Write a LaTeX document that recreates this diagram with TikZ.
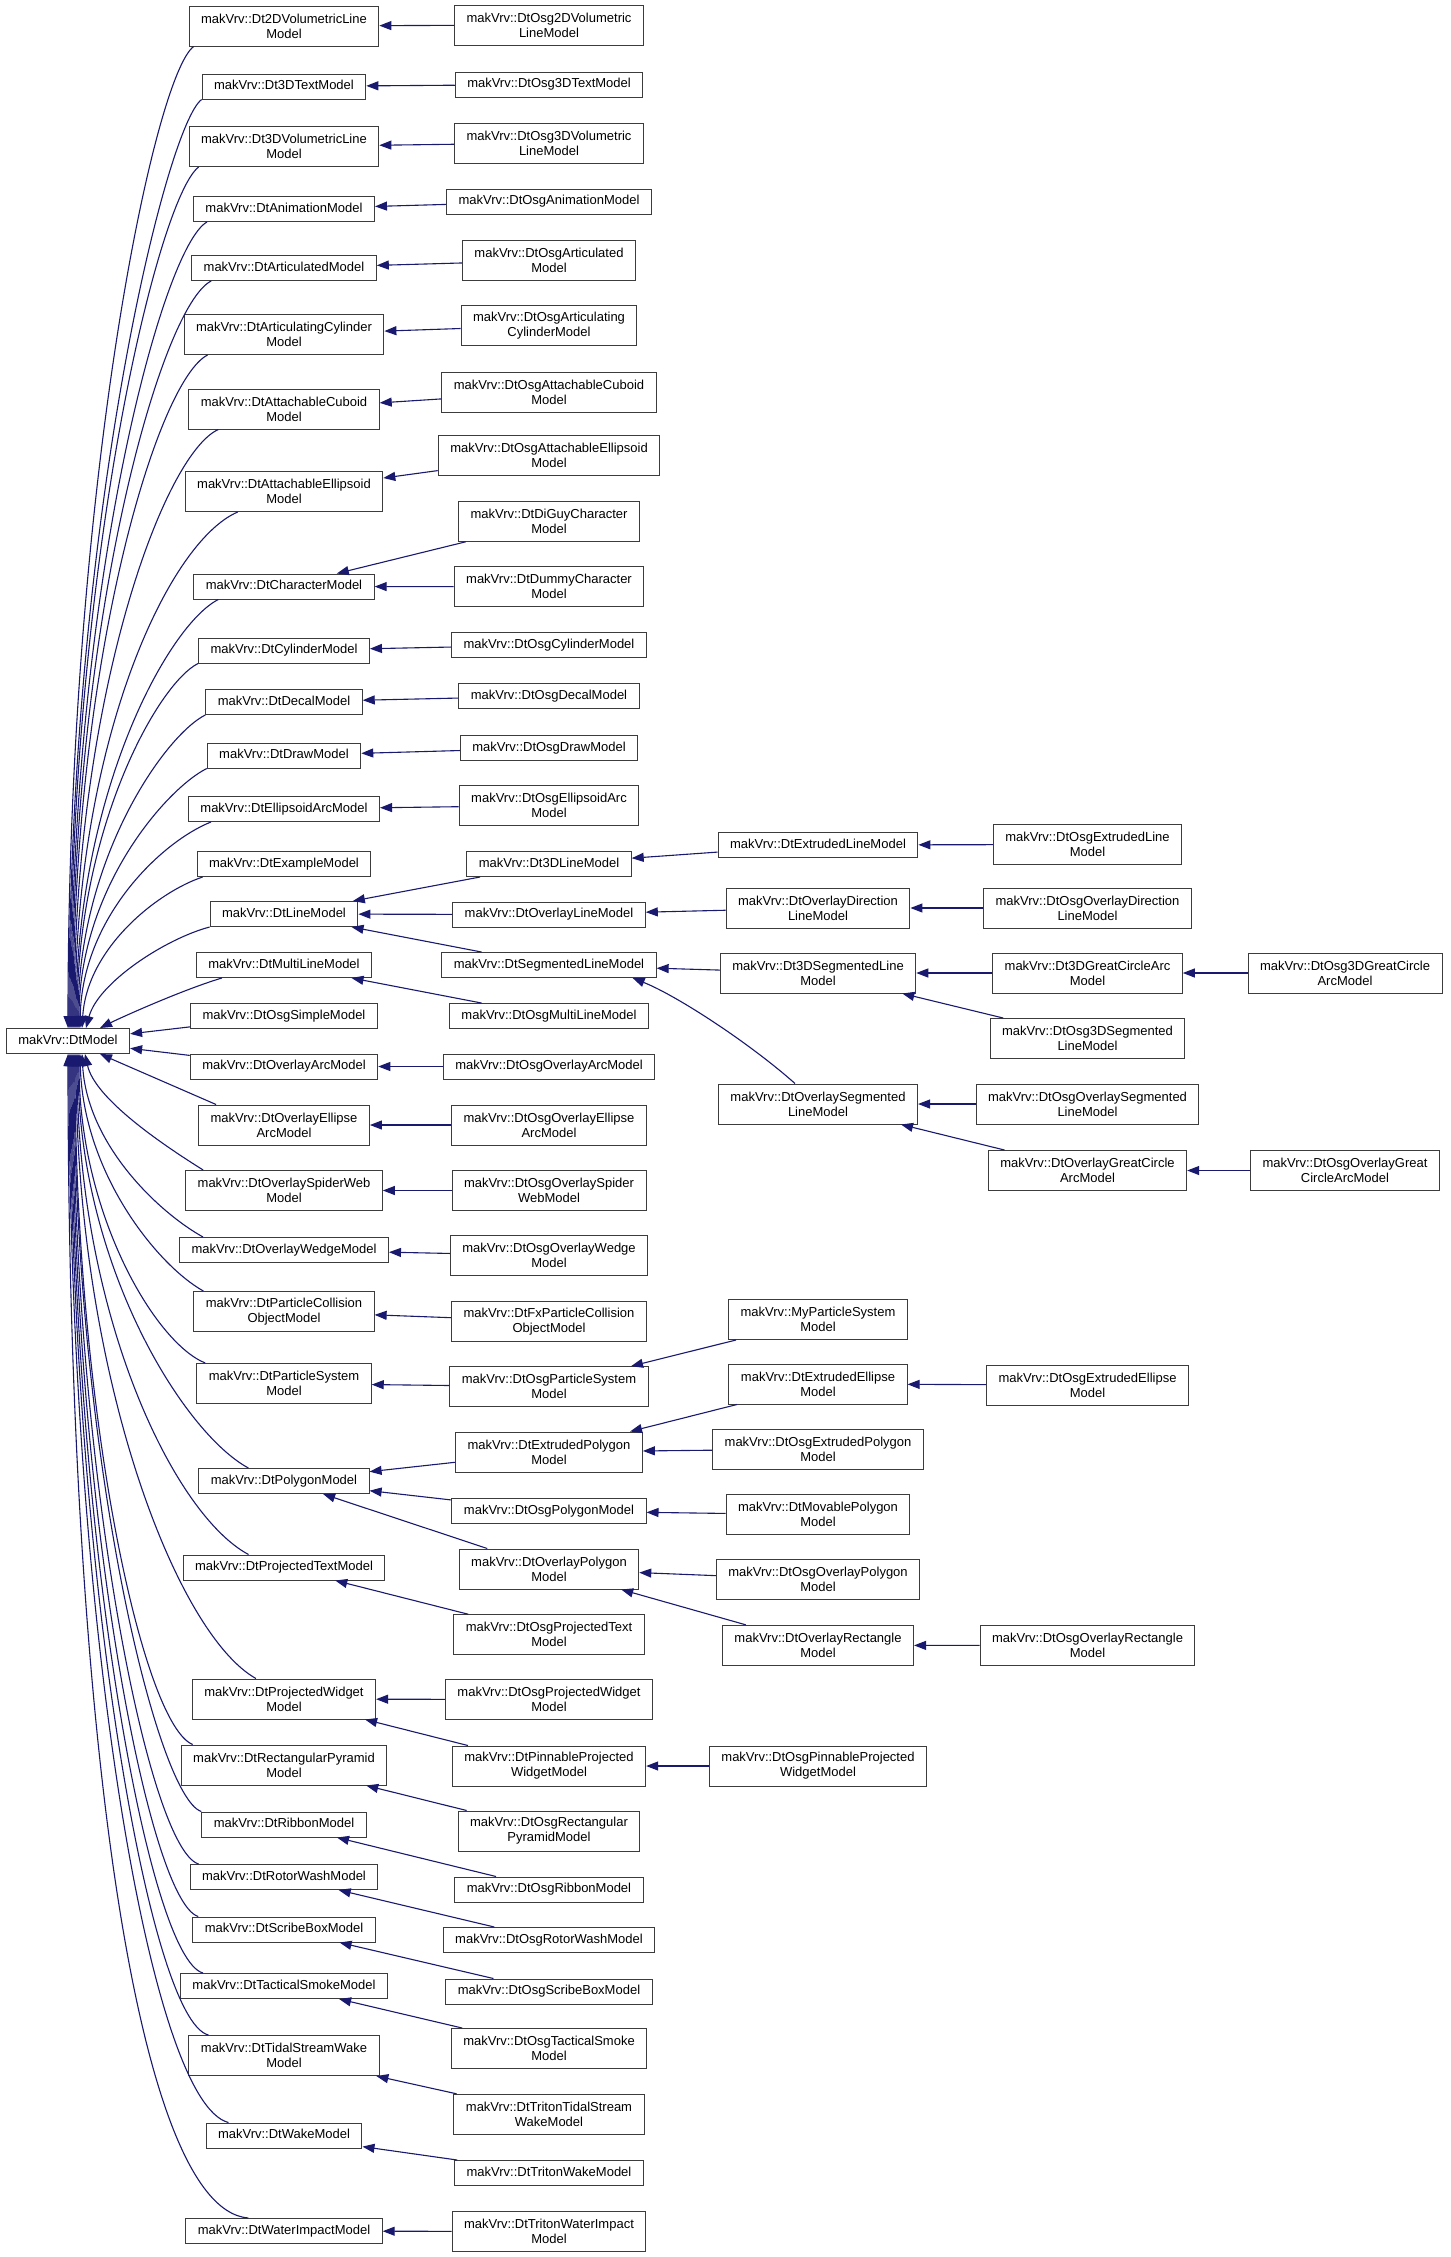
\documentclass[tikz,border=0pt]{standalone}
\usepackage{fontspec}
\setmainfont{Liberation Sans}
\usepackage{tikz}
\usetikzlibrary{arrows.meta}
\definecolor{edgeblue}{RGB}{25,25,112}
\definecolor{boxline}{RGB}{60,60,60}

\begin{document}
\begin{tikzpicture}[x=1pt, y=-1pt,
    cbase/.style={draw=boxline, line width=1pt, fill=white, align=center, inner xsep=12pt, inner ysep=2pt, font={\fontsize{13}{15}\selectfont}},
    cls/.style={cbase, minimum height=25pt, text height=9.6pt, text depth=2.8pt},
    clstwo/.style={cbase, minimum height=40pt},
    inh/.style={draw=edgeblue, line width=1.1pt, -{Triangle[length=12pt, width=9pt]}}]
            \fill[white] (0,0) rectangle (1451,2257);

            \node (model) [cls] at (68,1041) {makVrv::DtModel};

            \node (vtwod) [clstwo] at (284,26) {makVrv::Dt2DVolumetricLine\\Model};
            \node (text3d) [cls] at (284,86.5) {makVrv::Dt3DTextModel};
            \node (vthreed) [clstwo] at (284,146.5) {makVrv::Dt3DVolumetricLine\\Model};
            \node (anim) [cls] at (284,209) {makVrv::DtAnimationModel};
            \node (artic) [cls] at (284,268) {makVrv::DtArticulatedModel};
            \node (articcyl) [clstwo] at (284,334.5) {makVrv::DtArticulatingCylinder\\Model};
            \node (cuboid) [clstwo] at (284,409) {makVrv::DtAttachableCuboid\\Model};
            \node (ellipsoid) [clstwo] at (284,491.5) {makVrv::DtAttachableEllipsoid\\Model};
            \node (character) [cls] at (284,586.5) {makVrv::DtCharacterModel};
            \node (cylinder) [cls] at (284,650.5) {makVrv::DtCylinderModel};
            \node (decal) [cls] at (284,702) {makVrv::DtDecalModel};
            \node (drawm) [cls] at (284,755.5) {makVrv::DtDrawModel};
            \node (ellarc) [cls] at (284,809) {makVrv::DtEllipsoidArcModel};
            \node (example) [cls] at (284,864) {makVrv::DtExampleModel};
            \node (line) [cls] at (284,914) {makVrv::DtLineModel};
            \node (multiline) [cls] at (284,965) {makVrv::DtMultiLineModel};
            \node (osgsimple) [cls] at (284,1016) {makVrv::DtOsgSimpleModel};
            \node (ovarc) [cls] at (284,1066.5) {makVrv::DtOverlayArcModel};
            \node (ovellarc) [clstwo] at (284,1125) {makVrv::DtOverlayEllipse\\ArcModel};
            \node (spider) [clstwo] at (284,1190.5) {makVrv::DtOverlaySpiderWeb\\Model};
            \node (wedge) [cls] at (284,1250) {makVrv::DtOverlayWedgeModel};
            \node (collision) [clstwo] at (284,1311.5) {makVrv::DtParticleCollision\\ObjectModel};
            \node (particles) [clstwo] at (284,1383.5) {makVrv::DtParticleSystem\\Model};
            \node (polygon) [cls] at (284,1481) {makVrv::DtPolygonModel};
            \node (projtext) [cls] at (284,1567.5) {makVrv::DtProjectedTextModel};
            \node (projwidget) [clstwo] at (284,1699) {makVrv::DtProjectedWidget\\Model};
            \node (pyramid) [clstwo] at (284,1765) {makVrv::DtRectangularPyramid\\Model};
            \node (ribbon) [cls] at (284,1824.5) {makVrv::DtRibbonModel};
            \node (rotor) [cls] at (284,1877) {makVrv::DtRotorWashModel};
            \node (scribe) [cls] at (284,1929.5) {makVrv::DtScribeBoxModel};
            \node (smoke) [cls] at (284,1986) {makVrv::DtTacticalSmokeModel};
            \node (tidal) [clstwo] at (284,2055.5) {makVrv::DtTidalStreamWake\\Model};
            \node (wake) [cls] at (284,2135.5) {makVrv::DtWakeModel};
            \node (impact) [cls] at (284,2231) {makVrv::DtWaterImpactModel};

            \node (osgvol2d) [clstwo] at (549,25) {makVrv::DtOsg2DVolumetric\\LineModel};
            \node (osgtext3d) [cls] at (549,84.5) {makVrv::DtOsg3DTextModel};
            \node (osgvol3d) [clstwo] at (549,143) {makVrv::DtOsg3DVolumetric\\LineModel};
            \node (osganim) [cls] at (549,201.5) {makVrv::DtOsgAnimationModel};
            \node (osgartic) [clstwo] at (549,260.5) {makVrv::DtOsgArticulated\\Model};
            \node (osgarticcyl) [clstwo] at (549,325.5) {makVrv::DtOsgArticulating\\CylinderModel};
            \node (osgcuboid) [clstwo] at (549,392) {makVrv::DtOsgAttachableCuboid\\Model};
            \node (osgellipsoid) [clstwo] at (549,455.5) {makVrv::DtOsgAttachableEllipsoid\\Model};
            \node (diguy) [clstwo] at (549,521.3) {makVrv::DtDiGuyCharacter\\Model};
            \node (dummy) [clstwo] at (549,586.7) {makVrv::DtDummyCharacter\\Model};
            \node (osgcylinder) [cls] at (549,645) {makVrv::DtOsgCylinderModel};
            \node (osgdecal) [cls] at (549,696) {makVrv::DtOsgDecalModel};
            \node (osgdraw) [cls] at (549,748) {makVrv::DtOsgDrawModel};
            \node (osgellarc) [clstwo] at (549,805.5) {makVrv::DtOsgEllipsoidArc\\Model};
            \node (line3d) [cls] at (549,864) {makVrv::Dt3DLineModel};
            \node (ovline) [cls] at (549,914.5) {makVrv::DtOverlayLineModel};
            \node (segline) [cls] at (549,965) {makVrv::DtSegmentedLineModel};
            \node (osgmultiline) [cls] at (549,1016) {makVrv::DtOsgMultiLineModel};
            \node (osgovarc) [cls] at (549,1066.5) {makVrv::DtOsgOverlayArcModel};
            \node (osgovellarc) [clstwo] at (549,1125) {makVrv::DtOsgOverlayEllipse\\ArcModel};
            \node (osgspider) [clstwo] at (549,1190.5) {makVrv::DtOsgOverlaySpider\\WebModel};
            \node (osgwedge) [clstwo] at (549,1255.5) {makVrv::DtOsgOverlayWedge\\Model};
            \node (fxcollision) [clstwo] at (549,1321.3) {makVrv::DtFxParticleCollision\\ObjectModel};
            \node (osgparticles) [clstwo] at (549,1386.7) {makVrv::DtOsgParticleSystem\\Model};
            \node (extpolygon) [clstwo] at (549,1452) {makVrv::DtExtrudedPolygon\\Model};
            \node (osgpolygon) [cls] at (549,1511) {makVrv::DtOsgPolygonModel};
            \node (ovpolygon) [clstwo] at (549,1569) {makVrv::DtOverlayPolygon\\Model};
            \node (osgprojtext) [clstwo] at (549,1634.7) {makVrv::DtOsgProjectedText\\Model};
            \node (osgprojwidget) [clstwo] at (549,1699.5) {makVrv::DtOsgProjectedWidget\\Model};
            \node (pinnable) [clstwo] at (549,1766) {makVrv::DtPinnableProjected\\WidgetModel};
            \node (osgpyramid) [clstwo] at (549,1831) {makVrv::DtOsgRectangular\\PyramidModel};
            \node (osgribbon) [cls] at (549,1889.5) {makVrv::DtOsgRibbonModel};
            \node (osgrotor) [cls] at (549,1940) {makVrv::DtOsgRotorWashModel};
            \node (osgscribe) [cls] at (549,1991.5) {makVrv::DtOsgScribeBoxModel};
            \node (osgsmoke) [clstwo] at (549,2048.5) {makVrv::DtOsgTacticalSmoke\\Model};
            \node (tritontidal) [clstwo] at (549,2114.3) {makVrv::DtTritonTidalStream\\WakeModel};
            \node (tritonwake) [cls] at (549,2173) {makVrv::DtTritonWakeModel};
            \node (tritonimpact) [clstwo] at (549,2231.5) {makVrv::DtTritonWaterImpact\\Model};

            \node (extline) [cls] at (818,845) {makVrv::DtExtrudedLineModel};
            \node (ovdirection) [clstwo] at (818,908) {makVrv::DtOverlayDirection\\LineModel};
            \node (seg3d) [clstwo] at (818,973) {makVrv::Dt3DSegmentedLine\\Model};
            \node (ovseg) [clstwo] at (818,1104) {makVrv::DtOverlaySegmented\\LineModel};
            \node (myparticles) [clstwo] at (818,1319.5) {makVrv::MyParticleSystem\\Model};
            \node (extellipse) [clstwo] at (818,1384) {makVrv::DtExtrudedEllipse\\Model};
            \node (osgextpolygon) [clstwo] at (818,1449) {makVrv::DtOsgExtrudedPolygon\\Model};
            \node (movable) [clstwo] at (818,1514.7) {makVrv::DtMovablePolygon\\Model};
            \node (osgovpolygon) [clstwo] at (818,1579.7) {makVrv::DtOsgOverlayPolygon\\Model};
            \node (ovrect) [clstwo] at (818,1645.3) {makVrv::DtOverlayRectangle\\Model};
            \node (osgpinnable) [clstwo] at (818,1766) {makVrv::DtOsgPinnableProjected\\WidgetModel};

            \node (osgextline) [clstwo] at (1087.5,844.5) {makVrv::DtOsgExtrudedLine\\Model};
            \node (osgovdirection) [clstwo] at (1087.5,908) {makVrv::DtOsgOverlayDirection\\LineModel};
            \node (greatarc3d) [clstwo] at (1087.5,973) {makVrv::Dt3DGreatCircleArc\\Model};
            \node (osgseg3d) [clstwo] at (1087.5,1038.5) {makVrv::DtOsg3DSegmented\\LineModel};
            \node (osgovseg) [clstwo] at (1087.5,1104) {makVrv::DtOsgOverlaySegmented\\LineModel};
            \node (ovgreatarc) [clstwo] at (1087.5,1170.5) {makVrv::DtOverlayGreatCircle\\ArcModel};
            \node (osgextellipse) [clstwo] at (1087.5,1385) {makVrv::DtOsgExtrudedEllipse\\Model};
            \node (osgovrect) [clstwo] at (1087.5,1645.5) {makVrv::DtOsgOverlayRectangle\\Model};

            \node (osggreatarc3d) [clstwo] at (1345,973) {makVrv::DtOsg3DGreatCircle\\ArcModel};
            \node (osgovgreatarc) [clstwo] at (1345,1170.5) {makVrv::DtOsgOverlayGreat\\CircleArcModel};

            \draw[inh] ([xshift=5pt]vtwod.south west) .. controls +(-40,30) and +(0,-540) .. ([xshift=0pt]model.north);
            \draw[inh] ([xshift=0pt]text3d.south west) .. controls +(-35,25) and +(0,-510) .. ([xshift=1pt]model.north);
            \draw[inh] ([xshift=10pt]vthreed.south west) .. controls +(-40,30) and +(0,-470) .. ([xshift=2pt]model.north);
            \draw[inh] ([xshift=14pt]anim.south west) .. controls +(-45,25) and +(0,-440) .. ([xshift=3pt]model.north);
            \draw[inh] ([xshift=20pt]artic.south west) .. controls +(-50,25) and +(0,-410) .. ([xshift=4pt]model.north);
            \draw[inh] ([xshift=24pt]articcyl.south west) .. controls +(-50,25) and +(0,-370) .. ([xshift=5pt]model.north);
            \draw[inh] ([xshift=30pt]cuboid.south west) .. controls +(-55,25) and +(0,-330) .. ([xshift=6pt]model.north);
            \draw[inh] ([xshift=53pt]ellipsoid.south west) .. controls +(-70,30) and +(0,-285) .. ([xshift=7pt]model.north);
            \draw[inh] ([xshift=25pt]character.south west) .. controls +(-50,25) and +(0,-235) .. ([xshift=8pt]model.north);
            \draw[inh] ([xshift=0pt]cylinder.south west) .. controls +(-40,20) and +(0,-200) .. ([xshift=9pt]model.north);
            \draw[inh] ([xshift=0pt]decal.south west) .. controls +(-40,20) and +(0,-170) .. ([xshift=10pt]model.north);
            \draw[inh] ([xshift=0pt]drawm.south west) .. controls +(-40,20) and +(0,-140) .. ([xshift=11pt]model.north);
            \draw[inh] ([xshift=23pt]ellarc.south west) .. controls +(-50,20) and +(2,-110) .. ([xshift=12pt]model.north);
            \draw[inh] ([xshift=6pt]example.south west) .. controls +(-45,15) and +(5,-80) .. ([xshift=14pt]model.north);
            \draw[inh] ([xshift=0pt]line.south west) .. controls +(-45,12) and +(12,-45) .. ([xshift=18pt]model.north);
            \draw[inh] ([xshift=26pt]multiline.south west) .. controls +(-40,12) and +(20,-10) .. ([xshift=32pt]model.north);
            \draw[inh] (osgsimple) -- (model);
            \draw[inh] (ovarc) -- (model);
            \draw[inh] ([xshift=18pt]ovellarc.north west) -- ([xshift=32pt]model.south);
            \draw[inh] ([xshift=18pt]spider.north west) .. controls +(-40,-25) and +(10,45) .. ([xshift=17pt]model.south);
            \draw[inh] ([xshift=24pt]wedge.north west) .. controls +(-45,-25) and +(5,90) .. ([xshift=14pt]model.south);
            \draw[inh] ([xshift=10pt]collision.north west) .. controls +(-45,-25) and +(3,120) .. ([xshift=12pt]model.south);
            \draw[inh] ([xshift=9pt]particles.north west) .. controls +(-50,-20) and +(0,160) .. ([xshift=11pt]model.south);
            \draw[inh] ([xshift=50pt]polygon.north west) .. controls +(-65,-35) and +(0,210) .. ([xshift=10pt]model.south);
            \draw[inh] ([xshift=66pt]projtext.north west) .. controls +(-75,-40) and +(0,260) .. ([xshift=9pt]model.south);
            \draw[inh] ([xshift=64pt]projwidget.north west) .. controls +(-80,-45) and +(0,320) .. ([xshift=8pt]model.south);
            \draw[inh] ([xshift=12pt]pyramid.north west) .. controls +(-50,-20) and +(0,360) .. ([xshift=7pt]model.south);
            \draw[inh] ([xshift=0pt]ribbon.north west) .. controls +(-45,-15) and +(0,400) .. ([xshift=6pt]model.south);
            \draw[inh] ([xshift=9pt]rotor.north west) .. controls +(-50,-15) and +(0,420) .. ([xshift=5pt]model.south);
            \draw[inh] ([xshift=6pt]scribe.north west) .. controls +(-50,-15) and +(0,450) .. ([xshift=4pt]model.south);
            \draw[inh] ([xshift=23pt]smoke.north west) .. controls +(-55,-15) and +(0,480) .. ([xshift=3pt]model.south);
            \draw[inh] ([xshift=20pt]tidal.north west) .. controls +(-60,-15) and +(0,510) .. ([xshift=2pt]model.south);
            \draw[inh] ([xshift=23pt]wake.north west) .. controls +(-80,-20) and +(0,560) .. ([xshift=1pt]model.south);
            \draw[inh] ([xshift=63pt]impact.north west) .. controls +(-120,-10) and +(0,620) .. ([xshift=0pt]model.south);

            \draw[inh] (osgvol2d) -- (vtwod);
            \draw[inh] (osgtext3d) -- (text3d);
            \draw[inh] (osgvol3d) -- (vthreed);
            \draw[inh] (osganim) -- (anim);
            \draw[inh] (osgartic) -- (artic);
            \draw[inh] (osgarticcyl) -- (articcyl);
            \draw[inh] (osgcuboid) -- (cuboid);
            \draw[inh] (osgellipsoid) -- (ellipsoid);
            \draw[inh] (diguy) -- (character);
            \draw[inh] (dummy) -- (character);
            \draw[inh] (osgcylinder) -- (cylinder);
            \draw[inh] (osgdecal) -- (decal);
            \draw[inh] (osgdraw) -- (drawm);
            \draw[inh] (osgellarc) -- (ellarc);
            \draw[inh] (line3d) -- (line);
            \draw[inh] (ovline) -- (line);
            \draw[inh] (segline) -- (line);
            \draw[inh] (osgmultiline) -- (multiline);
            \draw[inh] (osgovarc) -- (ovarc);
            \draw[inh] (osgovellarc) -- (ovellarc);
            \draw[inh] (osgspider) -- (spider);
            \draw[inh] (osgwedge) -- (wedge);
            \draw[inh] (fxcollision) -- (collision);
            \draw[inh] (osgparticles) -- (particles);
            \draw[inh] (extpolygon) -- (polygon);
            \draw[inh] (osgpolygon) -- (polygon);
            \draw[inh] (ovpolygon) -- (polygon);
            \draw[inh] (osgprojtext) -- (projtext);
            \draw[inh] (osgprojwidget) -- (projwidget);
            \draw[inh] (pinnable) -- (projwidget);
            \draw[inh] (osgpyramid) -- (pyramid);
            \draw[inh] (osgribbon) -- (ribbon);
            \draw[inh] (osgrotor) -- (rotor);
            \draw[inh] (osgscribe) -- (scribe);
            \draw[inh] (osgsmoke) -- (smoke);
            \draw[inh] (tritontidal) -- (tidal);
            \draw[inh] (tritonwake) -- (wake);
            \draw[inh] (tritonimpact) -- (impact);

            \draw[inh] (extline) -- (line3d);
            \draw[inh] (ovdirection) -- (ovline);
            \draw[inh] (seg3d) -- (segline);
            \draw[inh] ([xshift=-23pt]ovseg.north) .. controls +(-45,-40) and +(45,18) .. ([xshift=-24pt]segline.south east);
            \draw[inh] (myparticles) -- (osgparticles);
            \draw[inh] (extellipse) -- (extpolygon);
            \draw[inh] (osgextpolygon) -- (extpolygon);
            \draw[inh] (movable) -- (osgpolygon);
            \draw[inh] (osgovpolygon) -- (ovpolygon);
            \draw[inh] (ovrect) -- (ovpolygon);
            \draw[inh] (osgpinnable) -- (pinnable);

            \draw[inh] (osgextline) -- (extline);
            \draw[inh] (osgovdirection) -- (ovdirection);
            \draw[inh] (greatarc3d) -- (seg3d);
            \draw[inh] (osgseg3d) -- (seg3d);
            \draw[inh] (osgovseg) -- (ovseg);
            \draw[inh] (ovgreatarc) -- (ovseg);
            \draw[inh] (osgextellipse) -- (extellipse);
            \draw[inh] (osgovrect) -- (ovrect);

            \draw[inh] (osggreatarc3d) -- (greatarc3d);
            \draw[inh] (osgovgreatarc) -- (ovgreatarc);
\end{tikzpicture}
\end{document}
